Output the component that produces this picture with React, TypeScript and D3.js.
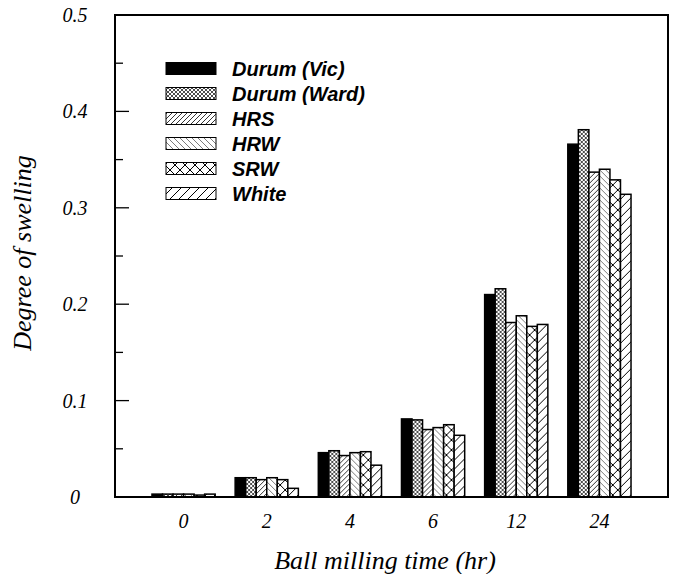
import React from "react";
import * as d3 from "d3";

const categories = ["0", "2", "4", "6", "12", "24"];
const seriesNames = ["Durum (Vic)", "Durum (Ward)", "HRS", "HRW", "SRW", "White"];
const durumVic = [0.003, 0.020, 0.046, 0.081, 0.210, 0.366];
const durumWard = [0.003, 0.020, 0.048, 0.080, 0.216, 0.381];
const hrs = [0.003, 0.018, 0.043, 0.070, 0.181, 0.337];
const hrw = [0.003, 0.020, 0.046, 0.072, 0.188, 0.340];
const srw = [0.002, 0.018, 0.047, 0.075, 0.177, 0.329];
const white = [0.003, 0.009, 0.033, 0.064, 0.179, 0.314];
const seriesValues = [durumVic, durumWard, hrs, hrw, srw, white];
const yTicks = [0, 0.1, 0.2, 0.3, 0.4, 0.5];
const yMinorTicks = [0.05, 0.15, 0.25, 0.35, 0.45];

const fills = ["#000", "url(#pWard)", "url(#pHRS)", "url(#pHRW)", "url(#pSRW)", "url(#pWhite)"];

export default function App() {
  const W = 677, H = 574;
  const left = 115, right = 668, top = 15, bottom = 497;
  const y = d3.scaleLinear().domain([0, 0.5]).range([bottom, top]);
  const x0 = d3.scaleBand<string>().domain(categories).range([142, 641]).paddingInner(0.24).paddingOuter(0.12);
  const x1 = d3.scaleBand<string>().domain(seriesNames).range([0, x0.bandwidth()]).padding(0);
  const serif = "'Liberation Serif', 'Times New Roman', serif";
  const sans = "'Liberation Sans', Arial, sans-serif";
  const legendY = d3.scaleBand<string>().domain(seriesNames).range([56, 206]);

  return (
    <svg width={W} height={H} style={{ position: "absolute", left: 0, top: 0, background: "#fff" }}>
      <defs>
        <pattern id="pWard" patternUnits="userSpaceOnUse" width="4" height="4">
          <rect width="4" height="4" fill="#fff" />
          <path d="M0,4 L4,0 M0,0 L4,4" stroke="#000" strokeWidth="0.7" />
        </pattern>
        <pattern id="pHRS" patternUnits="userSpaceOnUse" width="5" height="5">
          <rect width="5" height="5" fill="#fff" />
          <path d="M0,5 L5,0 M-1,1 L1,-1 M4,6 L6,4" stroke="#000" strokeWidth="0.8" />
        </pattern>
        <pattern id="pHRW" patternUnits="userSpaceOnUse" width="6" height="6">
          <rect width="6" height="6" fill="#fff" />
          <path d="M0,0 L6,6 M-1,5 L1,7 M5,-1 L7,1" stroke="#444" strokeWidth="0.7" />
        </pattern>
        <pattern id="pSRW" patternUnits="userSpaceOnUse" width="10" height="10">
          <rect width="10" height="10" fill="#fff" />
          <path d="M0,0 L10,10 M0,10 L10,0" stroke="#000" strokeWidth="1" />
        </pattern>
        <pattern id="pWhite" patternUnits="userSpaceOnUse" width="9" height="9">
          <rect width="9" height="9" fill="#fff" />
          <path d="M0,9 L9,0 M-1,1 L1,-1 M8,10 L10,8" stroke="#000" strokeWidth="1" />
        </pattern>
      </defs>

      {/* bars */}
      {categories.map((c, ci) => (
        <g key={c} transform={`translate(${x0(c)},0)`}>
          {seriesNames.map((s, si) => {
            const v = seriesValues[si][ci];
            return (
              <rect
                key={s}
                x={x1(s)}
                y={y(v)}
                width={x1.bandwidth()}
                height={bottom - y(v)}
                fill={fills[si]}
                stroke="#000"
                strokeWidth={1.5}
              />
            );
          })}
        </g>
      ))}

      {/* frame */}
      <rect x={left} y={top} width={right - left} height={bottom - top} fill="none" stroke="#000" strokeWidth={2} />

      {/* y ticks */}
      {yTicks.map((t) => (
        <g key={t}>
          <line x1={left} x2={left + 14} y1={y(t)} y2={y(t)} stroke="#000" strokeWidth={1.3} />
          <text x={75} y={y(t)} dy="0.35em" textAnchor="middle" fontFamily={serif} fontStyle="italic" fontSize={20}>
            {String(t)}
          </text>
        </g>
      ))}
      {yMinorTicks.map((t) => (
        <line key={t} x1={left} x2={left + 8} y1={y(t)} y2={y(t)} stroke="#000" strokeWidth={1.3} />
      ))}

      {/* x labels */}
      {categories.map((c) => (
        <text key={c} x={(x0(c) as number) + x0.bandwidth() / 2} y={521} dy="0.35em" textAnchor="middle" fontFamily={serif} fontStyle="italic" fontSize={20}>
          {c}
        </text>
      ))}

      {/* axis titles */}
      <text x={385} y={569} textAnchor="middle" fontFamily={serif} fontStyle="italic" fontSize={26}>
        Ball milling time (hr)
      </text>
      <text transform={`translate(31,253) rotate(-90)`} textAnchor="middle" fontFamily={serif} fontStyle="italic" fontSize={26}>
        Degree of swelling
      </text>

      {/* legend */}
      {seriesNames.map((s, si) => {
        const cy = (legendY(s) as number) + legendY.bandwidth() / 2;
        return (
          <g key={s}>
            <rect x={166} y={cy - 6} width={50} height={12} fill={fills[si]} stroke="#000" strokeWidth={1} />
            <text x={232} y={cy} dy="0.35em" fontFamily={sans} fontStyle="italic" fontWeight="bold" fontSize={20}>
              {s}
            </text>
          </g>
        );
      })}
    </svg>
  );
}
